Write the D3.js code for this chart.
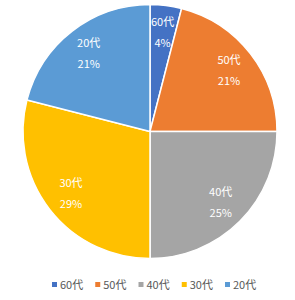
<!DOCTYPE html>
<html lang="ja">
<head>
  <meta charset="UTF-8">
  <title>年代別構成</title>
  <style>
    body { margin: 0; background: #fff; }
    text { font-family: "Noto Sans CJK JP", "Noto Sans", sans-serif; }
  </style>
</head>
<body>
<div id="chart"></div>
<script src="https://d3js.org/d3.v7.min.js"></script>
<script>
  // data
  var categories = ["60代", "50代", "40代", "30代", "20代"];
  var values = [4, 21, 25, 29, 21];
  var colors = ["#4472C4", "#ED7D31", "#A5A5A5", "#FFC000", "#5B9BD5"];

  var w = 295, h = 300;
  var cx = 150, cy = 131.5, radius = 127;

  var svg = d3.select("#chart").append("svg")
      .attr("width", w)
      .attr("height", h);

  var data = categories.map((c, i) => ({ category: c, value: values[i], color: colors[i] }));

  var pie = d3.pie().sort(null).value(d => d.value);
  var arc = d3.arc().innerRadius(0).outerRadius(radius);
  var labelArc = d3.arc().innerRadius(100).outerRadius(100);

  var total = d3.sum(values);
  var g = svg.append("g").attr("transform", `translate(${cx},${cy})`);

  var slices = g.selectAll("g.slice")
      .data(pie(data))
      .enter().append("g")
      .attr("class", "slice");

  slices.append("path")
      .attr("d", arc)
      .attr("fill", d => d.data.color)
      .attr("stroke", "#fff")
      .attr("stroke-width", 1.5);

  // labels: category + percent
  slices.each(function(d) {
    var p = labelArc.centroid(d);
    var t = d3.select(this).append("text")
        .attr("text-anchor", "middle")
        .attr("fill", "#fff")
        .attr("font-size", "11px");
    t.append("tspan").attr("x", p[0]).attr("y", p[1] - 6).text(d.data.category);
    t.append("tspan").attr("x", p[0]).attr("y", p[1] + 15)
        .text(Math.round(d.data.value / total * 100) + "%");
  });

  // legend
  var legendX = d3.scalePoint().domain(categories).range([52, 225]);
  var legend = svg.append("g").attr("transform", "translate(0,285)");
  var items = legend.selectAll("g")
      .data(data)
      .enter().append("g")
      .attr("transform", d => `translate(${legendX(d.category)},0)`);
  items.append("rect")
      .attr("x", 0).attr("y", -3)
      .attr("width", 5).attr("height", 5)
      .attr("fill", d => d.color);
  items.append("text")
      .attr("x", 8).attr("y", 4)
      .attr("font-size", "11px")
      .attr("fill", "#595959")
      .text(d => d.category);
</script>
</body>
</html>
